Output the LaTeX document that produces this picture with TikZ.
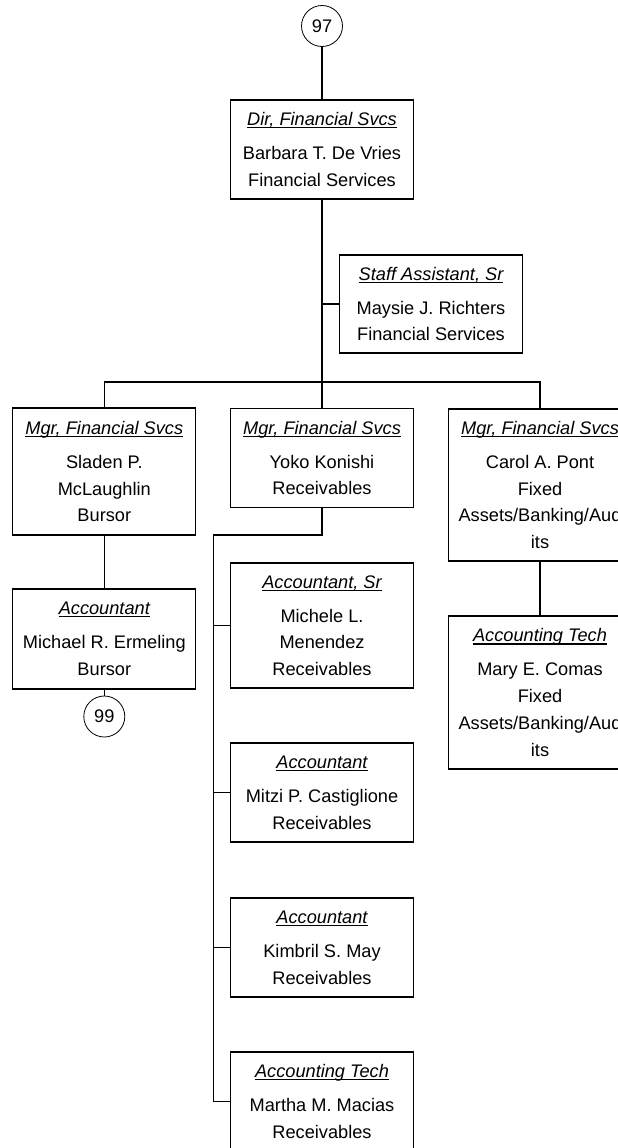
\documentclass[tikz,border=0pt]{standalone}
\usepackage{fontspec}
\setmainfont{Liberation Sans}
\newcommand{\ttl}[1]{\leavevmode\setbox0=\hbox{\itshape #1}\rlap{\rule[-2.6pt]{\wd0}{1.1pt}}\box0}
\begin{document}
\begin{tikzpicture}[x=1pt,y=-1pt,
  box/.style={draw, line width=1.2pt, minimum width=183pt, align=center, inner sep=0pt,
    font=\fontsize{18.2}{26.7}\selectfont},
  refc/.style={draw, circle, line width=0.8pt, minimum size=41pt, inner sep=0pt,
    font=\fontsize{18.2}{22}\selectfont},
  conn/.style={line width=1.1pt}]
\useasboundingbox (0,0) rectangle (618,1148);
\fill[white] (0,0) rectangle (618,1148);
\clip (0,0) rectangle (618,1148);

\node[refc] (c97) at (322,26) {97};
\node[box, minimum height=99pt] (dir) at (322,149.5)
  {\ttl{Dir, Financial Svcs}\\[7.3pt]Barbara T. De Vries\\Financial Services};
\node[box, minimum height=98pt] (staff) at (431,304)
  {\ttl{Staff Assistant, Sr}\\[7.3pt]Maysie J. Richters\\Financial Services};
\node[box, minimum height=127pt] (sladen) at (104.3,471.5)
  {\ttl{Mgr, Financial Svcs}\\[7.3pt]Sladen P.\\McLaughlin\\Bursor};
\node[box, minimum height=99pt] (yoko) at (322,458)
  {\ttl{Mgr, Financial Svcs}\\[7.3pt]Yoko Konishi\\Receivables};
\node[box, minimum height=152pt] (carol) at (540,485)
  {\ttl{Mgr, Financial Svcs}\\[7.3pt]Carol A. Pont\\Fixed\\Assets/Banking/Aud\\its};
\node[box, minimum height=100pt] (michael) at (104.3,639)
  {\ttl{Accountant}\\[7.3pt]Michael R. Ermeling\\Bursor};
\node[refc] (c99) at (104.3,716.5) {99};
\node[box, minimum height=125pt] (michele) at (322,625.5)
  {\ttl{Accountant, Sr}\\[7.3pt]Michele L.\\Menendez\\Receivables};
\node[box, minimum height=153pt] (mary) at (540,692.5)
  {\ttl{Accounting Tech}\\[7.3pt]Mary E. Comas\\Fixed\\Assets/Banking/Aud\\its};
\node[box, minimum height=99pt] (mitzi) at (322,792.5)
  {\ttl{Accountant}\\[7.3pt]Mitzi P. Castiglione\\Receivables};
\node[box, minimum height=99pt] (kimbril) at (322,947.5)
  {\ttl{Accountant}\\[7.3pt]Kimbril S. May\\Receivables};
\node[box, minimum height=99pt] (martha) at (322,1101.5)
  {\ttl{Accounting Tech}\\[7.3pt]Martha M. Macias\\Receivables};

\coordinate (bus) at (322,382);
\coordinate (sub) at (213.3,535);

\draw[conn] (c97) -- (dir);
\draw[conn] (dir.south) -- (bus);
\draw[conn] (staff.west) -- (staff.west -| dir.south);
\draw[conn] (sladen.north) |- (bus) -| (carol.north);
\draw[conn] (bus) -- (yoko.north);
\draw[conn] (sladen) -- (michael);
\draw[conn] (michael) -- (c99);
\draw[conn] (carol) -- (mary);
\draw[conn] (yoko.south) |- (sub) |- (martha.west);
\draw[conn] (michele.west) -- (michele.west -| sub);
\draw[conn] (mitzi.west) -- (mitzi.west -| sub);
\draw[conn] (kimbril.west) -- (kimbril.west -| sub);
\end{tikzpicture}
\end{document}
